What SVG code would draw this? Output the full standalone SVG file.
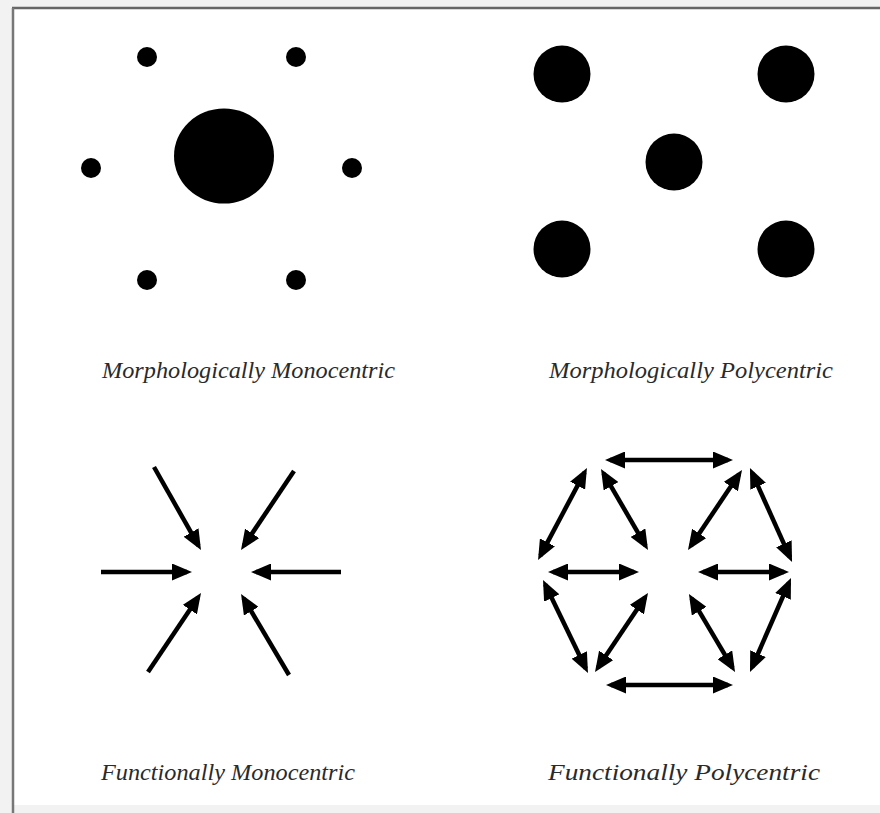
<svg xmlns="http://www.w3.org/2000/svg" width="880" height="813" viewBox="0 0 880 813">
  <defs>
    <marker id="ah" markerUnits="userSpaceOnUse" markerWidth="20" markerHeight="17" refX="15" refY="8.5" orient="auto-start-reverse" viewBox="0 0 20 17">
      <path d="M0,0 L20,8.5 L0,17 z" fill="#000"/>
    </marker>
    <style>
      .dot { fill: #000; }
      .lbl { font-family: "Liberation Serif", "Times New Roman", serif; font-style: italic; font-size: 24px; fill: #2a2a2a; }
      .one { stroke: #000; stroke-width: 4.5; fill: none; marker-end: url(#ah); }
      .two { stroke: #000; stroke-width: 4.5; fill: none; marker-start: url(#ah); marker-end: url(#ah); }
    </style>
  </defs>

  <rect x="0" y="0" width="880" height="813" fill="#f2f2f2"/>
  <rect x="13" y="9" width="867" height="796" fill="#ffffff"/>
  <line x1="12" y1="8" x2="880" y2="8" stroke="#666" stroke-width="2.5"/>
  <line x1="13" y1="8" x2="13" y2="813" stroke="#777" stroke-width="2.5"/>

  <g id="morph-mono">
    <ellipse class="dot" cx="224" cy="156" rx="50" ry="47.5"/>
    <circle class="dot" cx="147" cy="57" r="10"/>
    <circle class="dot" cx="296" cy="57" r="10"/>
    <circle class="dot" cx="91" cy="168" r="10"/>
    <circle class="dot" cx="352" cy="168" r="10"/>
    <circle class="dot" cx="147" cy="280" r="10"/>
    <circle class="dot" cx="296" cy="280" r="10"/>
  </g>

  <g id="morph-poly">
    <circle class="dot" cx="562" cy="74" r="28.5"/>
    <circle class="dot" cx="786" cy="74" r="28.5"/>
    <circle class="dot" cx="674" cy="162" r="28.5"/>
    <circle class="dot" cx="562" cy="249" r="28.5"/>
    <circle class="dot" cx="786" cy="249" r="28.5"/>
  </g>

  <g id="connectors">
    <g id="func-mono-arrows">
      <line class="one" x1="154" y1="467" x2="198.5" y2="545.6"/>
      <line class="one" x1="294" y1="471" x2="243.8" y2="545.8"/>
      <line class="one" x1="101" y1="572" x2="187" y2="572"/>
      <line class="one" x1="341" y1="572" x2="256" y2="572"/>
      <line class="one" x1="148" y1="672" x2="198.2" y2="597.2"/>
      <line class="one" x1="289" y1="675" x2="243.6" y2="598.3"/>
    </g>
    <g id="func-poly-arrows">
      <line class="two" x1="610" y1="460" x2="728" y2="460"/>
      <line class="two" x1="611" y1="685" x2="728" y2="685"/>
      <line class="two" x1="553" y1="572" x2="634" y2="572"/>
      <line class="two" x1="703" y1="572" x2="784" y2="572"/>
      <line class="two" x1="584.6" y1="472.4" x2="540.4" y2="555.6"/>
      <line class="two" x1="603.5" y1="473.3" x2="645.5" y2="545.7"/>
      <line class="two" x1="739.2" y1="474.1" x2="690.8" y2="545.9"/>
      <line class="two" x1="752" y1="472.6" x2="790" y2="557.4"/>
      <line class="two" x1="545.2" y1="584.5" x2="585.8" y2="668.5"/>
      <line class="two" x1="645.2" y1="597.2" x2="597.8" y2="667.8"/>
      <line class="two" x1="691.5" y1="598.3" x2="732.5" y2="667.7"/>
      <line class="two" x1="789" y1="582.6" x2="752" y2="667.4"/>
    </g>
  </g>

  <g id="labels">
    <text class="lbl" x="102" y="378" textLength="293" lengthAdjust="spacingAndGlyphs">Morphologically Monocentric</text>
    <text class="lbl" x="549" y="378" textLength="284" lengthAdjust="spacingAndGlyphs">Morphologically Polycentric</text>
    <text class="lbl" x="101" y="780" textLength="254" lengthAdjust="spacingAndGlyphs">Functionally Monocentric</text>
    <text class="lbl" x="548" y="780" textLength="272" lengthAdjust="spacingAndGlyphs">Functionally Polycentric</text>
  </g>
</svg>
